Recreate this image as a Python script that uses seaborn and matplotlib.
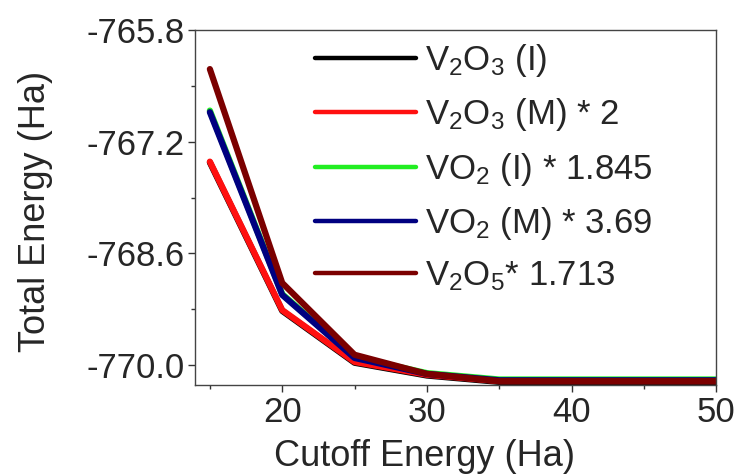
import numpy as np
import pandas as pd
import matplotlib.pyplot as plt
from matplotlib.ticker import MultipleLocator, FormatStrFormatter
import seaborn as sns

# cutoff energies (Ha)
cutoff = [15, 20, 25, 30, 35, 40, 45, 50]

# scaled total energies (Ha)
v2o3_i = [-767.46, -769.32, -769.97, -770.13, -770.21, -770.21, -770.21, -770.21]
v2o3_m = [-767.45, -769.31, -769.96, -770.12, -770.20, -770.20, -770.20, -770.20]
vo2_i = [-766.81, -769.11, -769.90, -770.10, -770.18, -770.18, -770.18, -770.18]
vo2_m = [-766.83, -769.12, -769.91, -770.11, -770.19, -770.19, -770.19, -770.19]
v2o5 = [-766.29, -768.97, -769.87, -770.11, -770.20, -770.20, -770.20, -770.20]

labels = ['V$_2$O$_3$ (I)', 'V$_2$O$_3$ (M) * 2', 'VO$_2$ (I) * 1.845',
          'VO$_2$ (M) * 3.69', 'V$_2$O$_5$* 1.713']
colors = ['black', '#ff1010', '#22ee22', '#000080', '#7b0000']

df = pd.DataFrame({'cutoff': cutoff * 5,
                   'energy': v2o3_i + v2o3_m + vo2_i + vo2_m + v2o5,
                   'series': sum([[l] * len(cutoff) for l in labels], [])})

sns.set_style('ticks')
plt.rcParams['font.family'] = ['Liberation Sans', 'DejaVu Sans']
plt.rcParams['mathtext.default'] = 'regular'

fig, ax = plt.subplots(figsize=(7.43, 4.76), dpi=100)
sns.lineplot(data=df, x='cutoff', y='energy', hue='series', hue_order=labels,
             palette=colors, linewidth=4.5, ax=ax)

ax.set_xlim(14, 50)
ax.set_ylim(-770.25, -765.8)
ax.xaxis.set_major_locator(MultipleLocator(10))
ax.xaxis.set_minor_locator(MultipleLocator(5))
ax.set_yticks([-770.0, -768.6, -767.2, -765.8])
ax.set_yticks([-769.3, -767.9, -766.5], minor=True)
ax.yaxis.set_major_formatter(FormatStrFormatter('%.1f'))
ax.tick_params(axis='both', which='major', labelsize=25, length=5, width=1,
               color='#333333', pad=3)
ax.tick_params(axis='both', which='minor', length=3, width=1, color='#333333')
for s in ax.spines.values():
    s.set_color('#444444')
    s.set_linewidth(1)

ax.set_xlabel('Cutoff Energy (Ha)', fontsize=26)
ax.set_ylabel('Total Energy (Ha)', fontsize=26)
ax.xaxis.set_label_coords(0.44, -0.152)
ax.yaxis.set_label_coords(-0.273, 0.49)

leg = ax.legend(loc='upper left', bbox_to_anchor=(0.23, 0.966), frameon=False, fontsize=25,
                handlelength=2.9, handletextpad=0.25, labelspacing=0.5, borderpad=0,
                borderaxespad=0)
for h in leg.get_lines():
    h.set_linewidth(3.2)

fig.subplots_adjust(left=0.263, right=0.964, top=0.937, bottom=0.191)
fig.savefig('out.png', dpi=100)
